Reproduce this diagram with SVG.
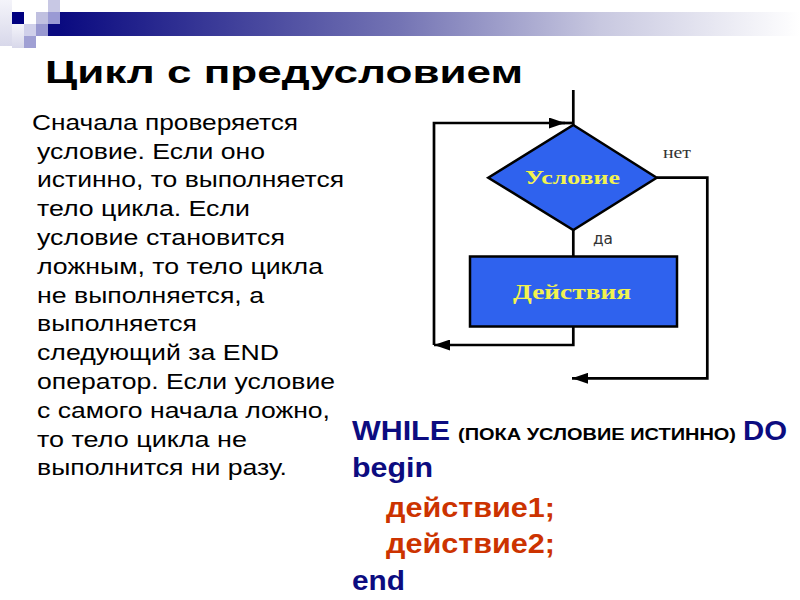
<svg xmlns="http://www.w3.org/2000/svg" width="800" height="600" viewBox="0 0 800 600">
<style>
.title{font-family:"Liberation Sans",Arial,sans-serif;font-weight:bold;font-size:32px;fill:#000}
.body{font-family:"Liberation Sans",Arial,sans-serif;font-size:22px;fill:#000}
.code{font-family:"Liberation Sans",Arial,sans-serif;font-weight:bold;font-size:27px}
.kw{fill:#0c0c80}
.act{fill:#cc3300}
.note{font-family:"Liberation Sans",Arial,sans-serif;font-weight:bold;font-size:16px;fill:#000}
.shape{fill:#2f62ee;stroke:#000;stroke-width:2.5}
.lbl{font-family:"Liberation Serif","Times New Roman",serif;font-weight:bold;fill:#f2f250;text-anchor:middle}
.edge{fill:none;stroke:#000;stroke-width:2.7}
.small{fill:#333;font-size:15px}
</style>
<defs>
<linearGradient id="bar" x1="60" y1="0" x2="800" y2="0" gradientUnits="userSpaceOnUse">
<stop offset="0" stop-color="#0a0a80"/>
<stop offset="0.46" stop-color="#7474b4"/>
<stop offset="0.73" stop-color="#c8c8e0"/>
<stop offset="1" stop-color="#ffffff"/>
</linearGradient>
<linearGradient id="soft" x1="0" y1="0" x2="0" y2="1">
<stop offset="0" stop-color="#f4f4fa"/>
<stop offset="1" stop-color="#d8d8ea"/>
</linearGradient>
<marker id="arr" markerUnits="userSpaceOnUse" markerWidth="17" markerHeight="11" refX="16" refY="5.5" orient="auto">
<path d="M0,0 L16,5.5 L0,11 z" fill="#000"/>
</marker>
</defs>
<g id="decoration">
<rect x="0" y="0" width="12" height="46" fill="url(#soft)"/>
<rect x="12" y="24" width="12" height="24" fill="url(#soft)"/>
<rect x="48" y="0" width="12" height="12" fill="#c8c8e4"/>
<rect x="12" y="12" width="12" height="12" fill="#000080"/>
<rect x="36" y="12" width="12" height="12" fill="#c0c0e0"/>
<rect x="48" y="12" width="12" height="12" fill="#9a9ad4"/>
<rect x="24" y="24" width="12" height="12" fill="#d0d0ea"/>
<rect x="36" y="24" width="12" height="12" fill="#9898d0"/>
<rect x="48" y="24" width="12" height="12" fill="#0a0a80"/>
<rect x="24" y="36" width="12" height="12" fill="#a0a0d4"/>
<rect x="60" y="12" width="740" height="24" fill="url(#bar)"/>
</g>
<text class="title" x="45" y="83" textLength="478" lengthAdjust="spacingAndGlyphs">Цикл с предусловием</text>
<g id="description" class="body">
<text x="32" y="129.5" textLength="266" lengthAdjust="spacingAndGlyphs">Сначала проверяется</text>
<text x="37" y="158.5" textLength="228" lengthAdjust="spacingAndGlyphs">условие. Если оно</text>
<text x="37" y="187.3" textLength="307" lengthAdjust="spacingAndGlyphs">истинно, то выполняется</text>
<text x="37" y="216.1" textLength="213" lengthAdjust="spacingAndGlyphs">тело цикла. Если</text>
<text x="37" y="244.9" textLength="248" lengthAdjust="spacingAndGlyphs">условие становится</text>
<text x="37" y="273.7" textLength="286" lengthAdjust="spacingAndGlyphs">ложным, то тело цикла</text>
<text x="37" y="302.5" textLength="227" lengthAdjust="spacingAndGlyphs">не выполняется, а</text>
<text x="37" y="331.3" textLength="160" lengthAdjust="spacingAndGlyphs">выполняется</text>
<text x="37" y="360.1" textLength="242" lengthAdjust="spacingAndGlyphs">следующий за END</text>
<text x="37" y="388.9" textLength="298" lengthAdjust="spacingAndGlyphs">оператор. Если условие</text>
<text x="37" y="417.7" textLength="293" lengthAdjust="spacingAndGlyphs">с самого начала ложно,</text>
<text x="37" y="446.5" textLength="210" lengthAdjust="spacingAndGlyphs">то тело цикла не</text>
<text x="37" y="475.3" textLength="250" lengthAdjust="spacingAndGlyphs">выполнится ни разу.</text>
</g>
<g id="connectors">
<path class="edge" d="M573.3,90 V126"/>
<path class="edge" d="M573.3,327 V345 H434" marker-end="url(#arr)"/>
<path class="edge" d="M434,345 V123 H565" marker-end="url(#arr)"/>
<path class="edge" d="M560,123 H573.3"/>
<path class="edge" d="M573.3,230 V256"/>
<path class="edge" d="M656.7,177.7 H707.3 V378.3 H572" marker-end="url(#arr)"/>
<text x="663" y="158" font-family="'Liberation Serif','Times New Roman',serif" font-size="16" fill="#333" textLength="28" lengthAdjust="spacingAndGlyphs">нет</text>
<text x="593" y="244" font-family="'DejaVu Sans','Liberation Sans',sans-serif" class="small" textLength="20" lengthAdjust="spacingAndGlyphs">да</text>
</g>
<g id="condition">
<polygon class="shape" points="573.3,125 656.7,177.7 573.3,230 488.3,177.7"/>
<text class="lbl" x="572.5" y="183.5" font-size="19" textLength="95" lengthAdjust="spacingAndGlyphs">Условие</text>
</g>
<g id="actions">
<rect class="shape" x="470" y="256.5" width="207" height="70" stroke-width="3"/>
<text class="lbl" x="572" y="298.5" font-size="22" textLength="118" lengthAdjust="spacingAndGlyphs">Действия</text>
</g>
<g id="code">
<text class="code kw" x="352" y="439.5" textLength="98" lengthAdjust="spacingAndGlyphs">WHILE</text>
<text class="note" x="458" y="439.5" textLength="278" lengthAdjust="spacingAndGlyphs">(ПОКА УСЛОВИЕ ИСТИННО)</text>
<text class="code kw" x="743" y="439.5" textLength="44" lengthAdjust="spacingAndGlyphs">DO</text>
<text class="code kw" x="352" y="476.5" textLength="81" lengthAdjust="spacingAndGlyphs">begin</text>
<text class="code act" x="386" y="516.5" textLength="169" lengthAdjust="spacingAndGlyphs">действие1;</text>
<text class="code act" x="386" y="553.3" textLength="169" lengthAdjust="spacingAndGlyphs">действие2;</text>
<text class="code kw" x="352" y="590" textLength="53" lengthAdjust="spacingAndGlyphs">end</text>
</g>
</svg>
